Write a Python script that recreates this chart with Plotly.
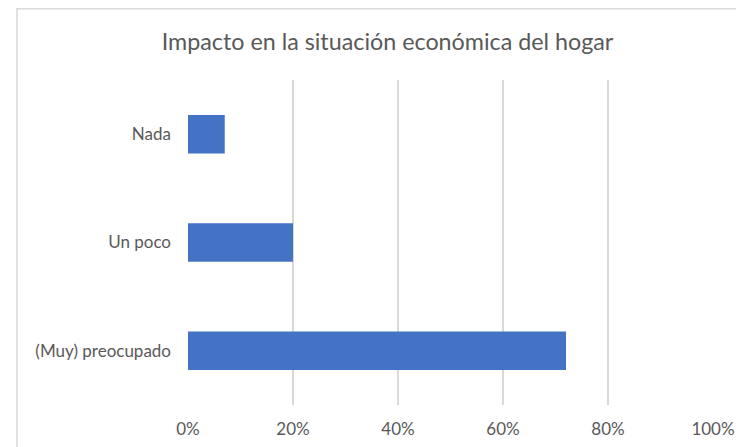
import plotly.graph_objects as go

categories = ["(Muy) preocupado", "Un poco", "Nada"]
values = [0.72, 0.20, 0.07]
tick_vals = [0, 0.2, 0.4, 0.6, 0.8, 1.0]
tick_text = ["0%", "20%", "40%", "60%", "80%", "100%"]
title_text = "Impacto en la situación económica del hogar"

# page has an 8px body margin; figure coordinates = page - 8
W, H = 736, 439
L, R, T, B = 180, 31, 72, 42
pw, ph = W - L - R, H - T - B

fig = go.Figure(go.Bar(
    x=values, y=categories, orientation="h",
    marker=dict(color="#4472C4", line=dict(width=0)),
    width=0.355,
))

fig.update_layout(
    width=W, height=H,
    margin=dict(l=L, r=R, t=T, b=B, autoexpand=False),
    paper_bgcolor="white", plot_bgcolor="white",
    font=dict(family="Lato, Open Sans, sans-serif", color="#595959", size=17),
    title=dict(text=title_text, x=379.5 / W, xanchor="center", xref="container",
               y=1 - 33.5 / H, yanchor="middle", yref="container",
               font=dict(size=23.3, color="#595959")),
    showlegend=False,
)
fig.update_xaxes(range=[0, 1.0], tickvals=tick_vals, ticktext=tick_text,
                 showgrid=True, gridcolor="#d9d9d9", gridwidth=1.5,
                 zeroline=False, showline=False, ticks="", ticklabelstandoff=12,
                 automargin=False, fixedrange=True)
fig.update_yaxes(showgrid=False, zeroline=False, showline=False, ticks="",
                 ticklabelstandoff=16, automargin=False, fixedrange=True)

# chart outer border (right and bottom edges lie outside the page)
x0 = (9 - L) / pw
x1 = (W + 60 - L) / pw
y1 = (H - B - 0.75) / ph
y0 = (H - B - (H + 60)) / ph
fig.add_shape(type="rect", xref="paper", yref="paper", x0=x0, x1=x1, y0=y0, y1=y1,
              line=dict(color="#d9d9d9", width=1.5), layer="below")

fig.write_html("out.html")
